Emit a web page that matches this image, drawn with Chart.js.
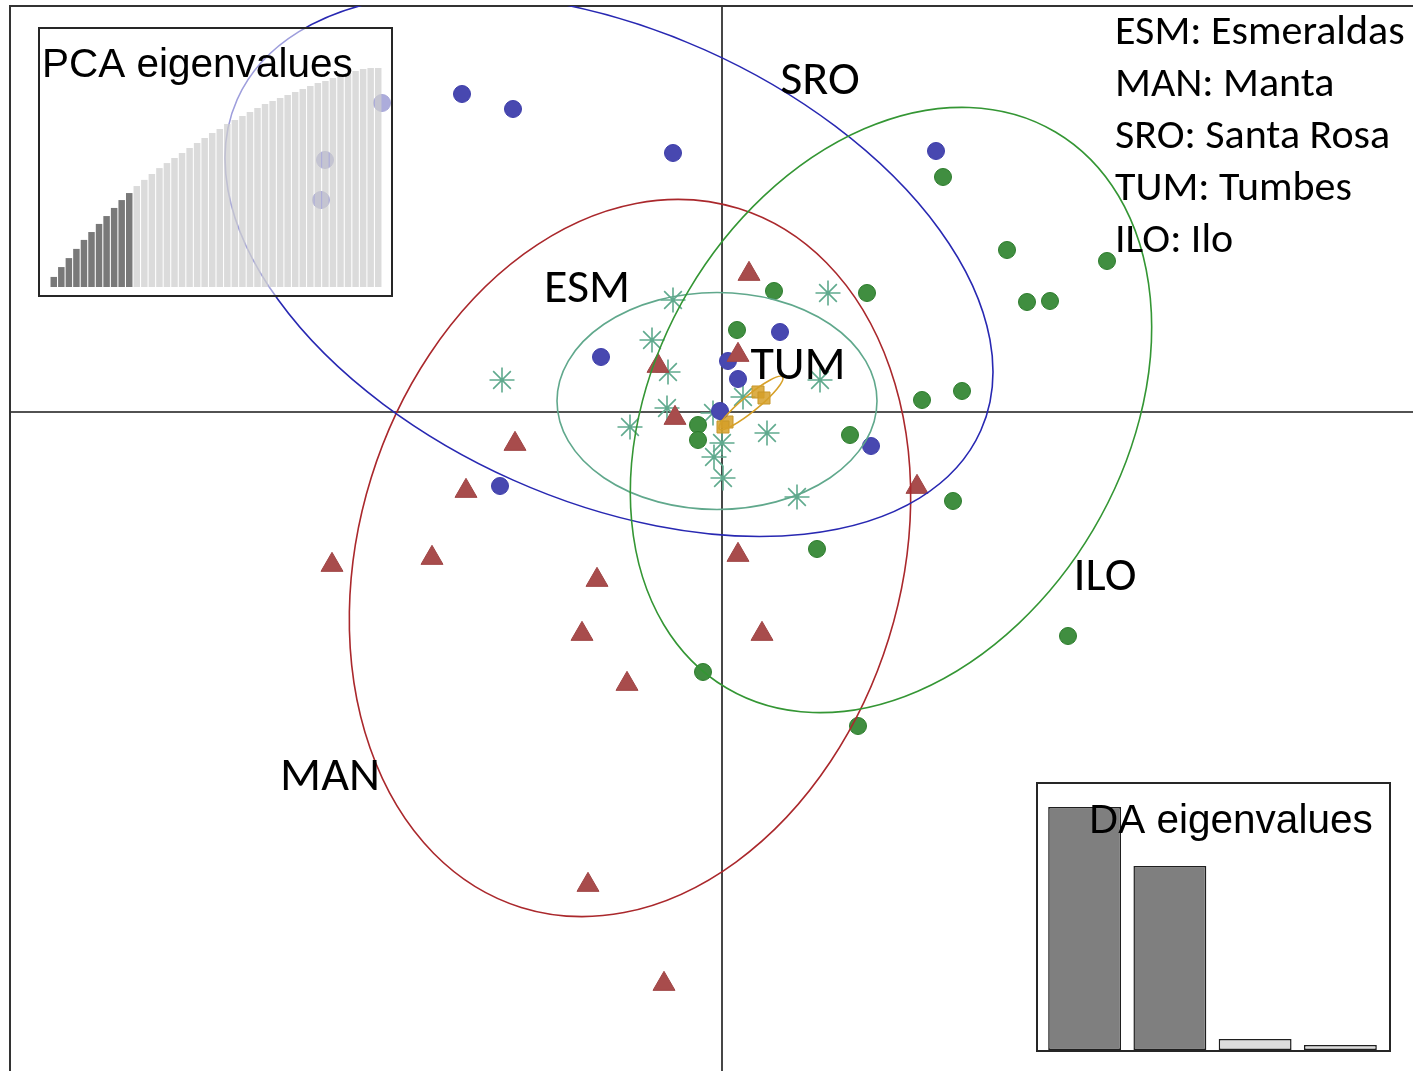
<!DOCTYPE html>
<html>
<head>
<meta charset="utf-8">
<title>DAPC scatter</title>
<script src="https://cdn.jsdelivr.net/npm/chart.js@4/dist/chart.umd.min.js"></script>
<style>
  html, body { margin: 0; padding: 0; background: #ffffff; }
  #wrap { position: relative; width: 1413px; height: 1071px; overflow: hidden; }
  #main { position: absolute; left: 0; top: 0; }
  .inset { position: absolute; border: 2px solid #262626; }
  #pcaBox { left: 38px; top: 27px; width: 351px; height: 266px; background: rgba(255,255,255,0.55); }
  #daBox { left: 1036px; top: 782px; width: 351px; height: 266px; background: #ffffff; }
  .inset canvas { position: absolute; left: 0; top: 0; }
</style>
</head>
<body>
<div id="wrap">
  <canvas id="main" width="1413" height="1071"></canvas>
  <div id="pcaBox" class="inset"><canvas id="pca" width="351" height="266"></canvas></div>
  <div id="daBox" class="inset"><canvas id="da" width="351" height="266"></canvas></div>
</div>
<script>
// ---- Discriminant function scores (LD1, LD2) per population ----
const popCodes = ['ESM', 'MAN', 'SRO', 'TUM', 'ILO'];
const popNames = ['Esmeraldas', 'Manta', 'Santa Rosa', 'Tumbes', 'Ilo'];

const esmX = [-0.49, 1.06, -0.70, -0.54, -2.20, 0.98, -0.92, -0.55, 0.45, 0.21, -0.09, 0.00, -0.08, 0.01, 0.75];
const esmY = [1.12, 1.19, 0.72, 0.40, 0.32, 0.32, -0.15, 0.04, -0.21, 0.15, -0.01, -0.31, -0.45, -0.66, -0.85];

const manX = [0.27, 0.16, -0.64, -0.47, -2.07, -2.56, -2.90, -3.90, -1.25, -1.40, -0.95, 0.16, 0.40, 1.95, -1.34, -0.58];
const manY = [1.38, 0.57, 0.46, -0.06, -0.32, -0.79, -1.46, -1.53, -1.68, -2.22, -2.72, -1.43, -2.22, -0.75, -4.73, -5.72];

const sroX = [-2.60, -2.09, -0.49, 2.14, -1.21, 0.58, 0.06, 0.16, -0.02, 1.49, -2.22, -3.40, -3.97, -4.01];
const sroY = [3.18, 3.03, 2.59, 2.61, 0.55, 0.80, 0.51, 0.33, 0.01, -0.34, -0.74, 3.09, 2.52, 2.12];

const tumX = [0.05, 0.01, 0.36, 0.42];
const tumY = [-0.10, -0.15, 0.20, 0.14];

const iloX = [2.21, 2.85, 3.85, 3.05, 3.28, 1.45, 0.52, 0.15, 2.00, 2.40, 1.28, -0.24, -0.24, 2.31, 0.95, 3.46, -0.19, 1.36];
const iloY = [2.35, 1.62, 1.51, 1.10, 1.11, 1.19, 1.21, 0.82, 0.12, 0.21, -0.23, -0.13, -0.28, -0.89, -1.37, -2.24, -2.60, -3.14];

// Inertia ellipses: centre, semi-axes and rotation (degrees) in LD units
const ellCx    = [-0.05, -0.92, -1.13, 0.29, 1.69];
const ellCy    = [ 0.11, -1.46,  1.47, 0.09, 0.02];
const ellA     = [ 1.60,  3.66,  4.07, 0.41, 3.23];
const ellB     = [ 1.085, 2.71, 2.355, 0.08, 2.35];
const ellAngle = [ 0,    72.7, -24.0, 39.5, 59.4];

// Group label positions
const labX = [-1.35, -3.92, 0.98, 0.76, 3.83];
const labY = [ 1.22, -3.66, 3.30, 0.45, -1.66];

// Cumulative PCA variance (%) for the 44 principal components; 11 retained
const pcaCumVar = [4.6, 9.1, 13.2, 17.4, 21.5, 25.1, 28.8, 32.4, 36.1, 39.7, 42.9,
  46.1, 48.9, 51.6, 54.3, 56.6, 58.9, 61.2, 63.5, 65.8, 68.0, 70.3, 72.1, 74.4, 76.3,
  78.1, 79.9, 81.7, 83.6, 84.9, 86.3, 87.7, 89.0, 90.4, 91.8, 93.2, 94.1, 95.4, 96.3,
  97.7, 98.6, 99.5, 100, 100];
const pcaRetained = 11;

// Discriminant analysis eigenvalues; 2 retained
const daEigen = [121.5, 92.0, 5.5, 2.5];
const daRetained = 2;

// ---- colours / styles ----
const pointFill   = ['rgba(96,170,142,1)', 'rgb(168,76,76)', 'rgb(72,72,176)', 'rgba(214,160,40,0.85)', 'rgb(64,142,64)'];
const pointEdge   = ['rgb(96,170,142)', 'rgb(160,70,70)', 'rgb(62,62,170)', 'rgb(200,150,40)', 'rgb(44,124,44)'];
const ellColour   = ['rgb(96,168,140)', 'rgb(170,40,44)', 'rgb(40,40,178)', 'rgb(214,160,40)', 'rgb(52,150,52)'];
const labelFont   = '"Carlito", "Lato", sans-serif';

const toXY = (xs, ys) => xs.map((v, i) => ({ x: v, y: ys[i] }));

const crossPlugin = {
  id: 'cross',
  beforeDatasetsDraw(chart) {
    const { ctx, chartArea: a, scales: { x, y } } = chart;
    ctx.save();
    ctx.strokeStyle = '#1a1a1a';
    ctx.lineWidth = 1.6;
    const x0 = x.getPixelForValue(0), y0 = y.getPixelForValue(0);
    ctx.beginPath();
    ctx.moveTo(x0, a.top); ctx.lineTo(x0, a.bottom);
    ctx.moveTo(a.left, y0); ctx.lineTo(a.right, y0);
    ctx.stroke();
    // frame (top and left edges)
    ctx.strokeStyle = '#333333';
    ctx.lineWidth = 2;
    ctx.beginPath();
    ctx.moveTo(a.right, a.top); ctx.lineTo(a.left, a.top); ctx.lineTo(a.left, a.bottom);
    ctx.stroke();
    ctx.restore();
  }
};

const ellipsePlugin = {
  id: 'ellipses',
  afterDatasetsDraw(chart) {
    const { ctx, chartArea: a, scales: { x, y } } = chart;
    const unit = x.getPixelForValue(1) - x.getPixelForValue(0);
    ctx.save();
    ctx.beginPath();
    ctx.rect(a.left, a.top, a.right - a.left, a.bottom - a.top);
    ctx.clip();
    for (let i = 0; i < ellCx.length; i++) {
      ctx.beginPath();
      ctx.ellipse(x.getPixelForValue(ellCx[i]), y.getPixelForValue(ellCy[i]),
        ellA[i] * unit, ellB[i] * unit, -ellAngle[i] * Math.PI / 180, 0, Math.PI * 2);
      ctx.strokeStyle = ellColour[i];
      ctx.lineWidth = 1.6;
      ctx.stroke();
    }
    // group labels
    ctx.fillStyle = '#000000';
    ctx.font = '48px ' + labelFont;
    ctx.textAlign = 'center';
    ctx.textBaseline = 'middle';
    for (let i = 0; i < popCodes.length; i++) {
      ctx.fillText(popCodes[i], x.getPixelForValue(labX[i]), y.getPixelForValue(labY[i]));
    }
    // population key
    ctx.textAlign = 'left';
    ctx.textBaseline = 'alphabetic';
    ctx.font = '42px ' + labelFont;
    for (let i = 0; i < popCodes.length; i++) {
      ctx.fillText(popCodes[i] + ': ' + popNames[i], 1115, 44 + 52 * i);
    }
    ctx.restore();
  }
};

const datasetOrder = [1, 2, 4, 3, 0]; // MAN drawn on top, ESM at the bottom
const styles = ['star', 'triangle', 'circle', 'rect', 'circle'];
const radii = [12.5, 12.7, 8.5, 8.5, 8.5];
const xs = [esmX, manX, sroX, tumX, iloX];
const ys = [esmY, manY, sroY, tumY, iloY];

new Chart(document.getElementById('main'), {
  type: 'scatter',
  data: {
    datasets: datasetOrder.map(g => ({
      label: popCodes[g],
      data: toXY(xs[g], ys[g]),
      pointStyle: styles[g],
      pointRadius: radii[g],
      pointHoverRadius: radii[g],
      backgroundColor: pointFill[g],
      borderColor: pointEdge[g],
      borderWidth: g === 0 ? 1.6 : 1
    }))
  },
  options: {
    responsive: false,
    animation: false,
    events: [],
    layout: { autoPadding: false, padding: { left: 10, top: 6, right: 0, bottom: 0 } },
    scales: {
      x: { type: 'linear', min: -7.12, max: 6.91, display: false },
      y: { type: 'linear', min: -6.59, max: 4.06, display: false }
    },
    plugins: { legend: { display: false }, tooltip: { enabled: false } }
  },
  plugins: [crossPlugin, ellipsePlugin]
});

// ---- inset: PCA eigenvalues ----
const insetTitle = (text, tx, ty) => ({
  id: 'insetTitle',
  afterDatasetsDraw(chart) {
    const ctx = chart.ctx;
    ctx.save();
    ctx.fillStyle = '#000000';
    ctx.font = '40.5px "Liberation Sans", Arial, sans-serif';
    ctx.textBaseline = 'alphabetic';
    ctx.fillText(text, tx, ty);
    ctx.restore();
  }
});

new Chart(document.getElementById('pca'), {
  type: 'bar',
  data: {
    labels: pcaCumVar.map((_, i) => String(i + 1)),
    datasets: [{
      data: pcaCumVar,
      backgroundColor: pcaCumVar.map((_, i) => i < pcaRetained ? 'rgba(110,110,110,0.92)' : 'rgba(205,205,205,0.72)'),
      borderWidth: 0,
      categoryPercentage: 1,
      barPercentage: 0.86
    }]
  },
  options: {
    responsive: false,
    animation: false,
    events: [],
    layout: { autoPadding: false, padding: { left: 10, right: 9, top: 39, bottom: 8 } },
    scales: {
      x: { display: false },
      y: { display: false, min: 0, max: 100 }
    },
    plugins: { legend: { display: false }, tooltip: { enabled: false } }
  },
  plugins: [insetTitle('PCA eigenvalues', 2, 48)]
});

// ---- inset: DA eigenvalues ----
new Chart(document.getElementById('da'), {
  type: 'bar',
  data: {
    labels: daEigen.map((_, i) => String(i + 1)),
    datasets: [{
      data: daEigen,
      backgroundColor: daEigen.map((_, i) => i < daRetained ? '#7f7f7f' : '#dcdcdc'),
      borderColor: '#1f1f1f',
      borderWidth: 1.5,
      borderSkipped: false,
      categoryPercentage: 1,
      barPercentage: 0.855
    }]
  },
  options: {
    responsive: false,
    animation: false,
    events: [],
    layout: { autoPadding: false, padding: { left: 4, right: 6, top: 23, bottom: 0 } },
    scales: {
      x: { display: false },
      y: { display: false, min: 0, max: daEigen[0] }
    },
    plugins: { legend: { display: false }, tooltip: { enabled: false } }
  },
  plugins: [insetTitle('DA eigenvalues', 51, 49)]
});
</script>
</body>
</html>
